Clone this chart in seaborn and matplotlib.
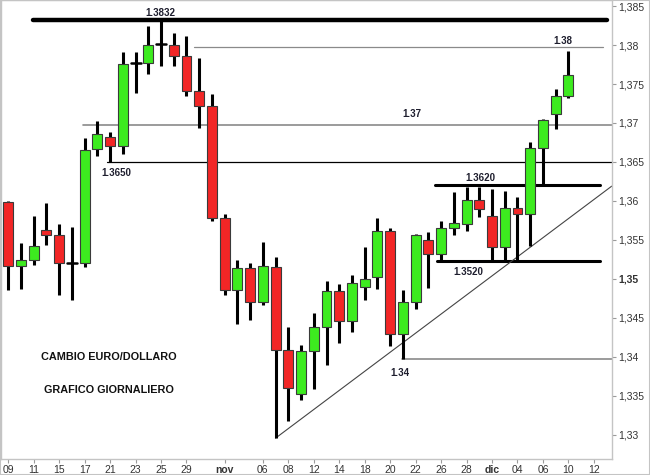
import pandas as pd
import matplotlib
matplotlib.use("Agg")
import matplotlib.pyplot as plt
from matplotlib.patches import Rectangle
import seaborn as sns

sns.set_theme(style="white")
plt.rcParams['font.family'] = ['Liberation Sans', 'DejaVu Sans']

# --- DATA: EUR/USD daily candles, 9 Oct - 10 Dec (trading days only) ---
opens = [1.3599, 1.3517, 1.3524, 1.3563, 1.3556, 1.3521, 1.3521, 1.3667, 1.3682, 1.3671,
         1.3777, 1.3777, 1.3801, 1.3800, 1.3786, 1.3741, 1.3722, 1.3578, 1.3486, 1.3514,
         1.3471, 1.3516, 1.3409, 1.3352, 1.3408, 1.3438, 1.3484, 1.3446, 1.3490, 1.3502,
         1.3562, 1.3429, 1.3471, 1.3550, 1.3532, 1.3566, 1.3571, 1.3601, 1.3581, 1.3541,
         1.3591, 1.3583, 1.3668, 1.3712, 1.3735]
highs = [1.3600, 1.3546, 1.3581, 1.3597, 1.3571, 1.3567, 1.3681, 1.3703, 1.3689, 1.3791,
         1.3791, 1.3824, 1.3832, 1.3816, 1.3812, 1.3783, 1.3737, 1.3583, 1.3524, 1.3521,
         1.3547, 1.3528, 1.3438, 1.3415, 1.3456, 1.3497, 1.3493, 1.3505, 1.3541, 1.3578,
         1.3565, 1.3486, 1.3558, 1.3560, 1.3574, 1.3612, 1.3618, 1.3618, 1.3615, 1.3613,
         1.3605, 1.3676, 1.3705, 1.3744, 1.3792]
lows = [1.3486, 1.3487, 1.3518, 1.3544, 1.3479, 1.3473, 1.3516, 1.3658, 1.3650, 1.3660,
        1.3739, 1.3763, 1.3773, 1.3773, 1.3734, 1.3694, 1.3574, 1.3479, 1.3442, 1.3448,
        1.3467, 1.3296, 1.3318, 1.3345, 1.3359, 1.3390, 1.3418, 1.3432, 1.3473, 1.3487,
        1.3414, 1.3398, 1.3461, 1.3488, 1.3523, 1.3557, 1.3562, 1.3579, 1.3523, 1.3523,
        1.3523, 1.3542, 1.3620, 1.3692, 1.3732]
closes = [1.3517, 1.3524, 1.3542, 1.3556, 1.3521, 1.3521, 1.3666, 1.3686, 1.3671, 1.3776,
          1.3777, 1.3800, 1.3801, 1.3786, 1.3741, 1.3722, 1.3578, 1.3486, 1.3514, 1.3471,
          1.3517, 1.3409, 1.3360, 1.3408, 1.3438, 1.3484, 1.3446, 1.3495, 1.3500, 1.3562,
          1.3429, 1.3470, 1.3557, 1.3532, 1.3566, 1.3572, 1.3601, 1.3590, 1.3541, 1.3591,
          1.3583, 1.3668, 1.3704, 1.3735, 1.3762]

# x tick labels (every other trading day, month names in bold)
tick_pos = [0, 2, 4, 6, 8, 10, 12, 14, 17, 20, 22, 24, 26, 28, 30, 32, 34, 36, 38, 40, 42, 44, 46]
tick_labels = ['09', '11', '15', '17', '21', '23', '25', '29', 'nov', '06', '08', '12',
               '14', '18', '20', '22', '26', '28', 'dic', '04', '06', '10', '12']
y_ticks = [1.33, 1.335, 1.34, 1.345, 1.35, 1.355, 1.36, 1.365, 1.37, 1.375, 1.38, 1.385]
y_labels = ['1,33', '1,335', '1,34', '1,345', '1,35', '1,355', '1,36', '1,365', '1,37',
            '1,375', '1,38', '1,385']

# support / resistance levels (value, from day, to day)
level_values = [1.3832, 1.3798, 1.3698, 1.3650, 1.3620, 1.3523, 1.3398]
level_from = [1.94, 14.6, 5.87, 7.78, 33.5, 33.7, 30.9]
level_to = [47.0, 46.7, 47.4, 47.4, 46.5, 46.5, 47.4]
level_text = ['1.3832', '1.38', '1.37', '1.3650', '1.3620', '1.3520', '1.34']
text_x = [11.98, 43.55, 31.7, 8.46, 37.1, 36.1, 30.8]
text_y = [1.3841, 1.3805, 1.3712, 1.3636, 1.3630, 1.3509, 1.3380]

# rising trend line
trend_x = [21, 47.4]
trend_y = [1.3296, 1.3619]

df = pd.DataFrame({'open': opens, 'high': highs, 'low': lows, 'close': closes})
df['day'] = range(len(df))

# --- PLOT ---
fig = plt.figure(figsize=(6.5, 4.75), dpi=100)
ax = fig.add_axes([1 / 650, 1 - 459 / 475, 610.7 / 650, 459 / 475])

# level lines
styles = [(3.2, 'black'), (0.9, '#8a8a8a'), (1.2, '#8a8a8a'), (0.9, 'black'),
          (2.2, 'black'), (2.2, 'black'), (1.2, '#8a8a8a')]
for val, x0, x1, (lw, col) in zip(level_values, level_from, level_to, styles):
    ax.plot([x0, x1], [val, val], color=col, lw=lw, solid_capstyle='round', zorder=1)

# trend line
sns.lineplot(x=trend_x, y=trend_y, color='#444444', lw=0.8, ax=ax, zorder=1)

# wicks
ax.vlines(df['day'], df['low'], df['high'], color='black', lw=2.2, zorder=2)

# bodies
body_w = 0.78
for _, r in df.iterrows():
    lo = min(r['open'], r['close'])
    h = abs(r['close'] - r['open'])
    if h < 0.00005:
        ax.plot([r['day'] - body_w / 2, r['day'] + body_w / 2], [lo, lo],
                color='black', lw=1.8, zorder=3)
        continue
    col = '#3deb1f' if r['close'] > r['open'] else '#f22626'
    ax.bar(r['day'], h, bottom=lo, width=body_w, color=col,
           edgecolor='#3a3a3a', linewidth=0.8, zorder=3)

# annotations
for t, x, y in zip(level_text, text_x, text_y):
    ax.text(x, y, t, ha='center', va='center', fontsize=7, fontweight='bold',
            color='#1e1e2e', zorder=4)
ax.text(7.88, 1.3400, 'CAMBIO EURO/DOLLARO', ha='center', va='center',
        fontsize=7.8, fontweight='bold', color='#111111')
ax.text(7.88, 1.3358, 'GRAFICO GIORNALIERO', ha='center', va='center',
        fontsize=7.8, fontweight='bold', color='#111111')

# axes styling
ax.set_xlim(-0.57, 47.4)
ax.set_ylim(1.32692, 1.38577)
ax.set_xlabel('')
ax.set_ylabel('')
ax.yaxis.tick_right()
ax.set_xticks(tick_pos)
ax.set_xticklabels(tick_labels)
ax.set_yticks(y_ticks)
ax.set_yticklabels(y_labels)
for lbl in ax.get_xticklabels():
    if lbl.get_text() in ('nov', 'dic'):
        lbl.set_fontweight('bold')
for lbl in ax.get_yticklabels():
    if lbl.get_text() == '1,35':
        lbl.set_fontweight('bold')
ax.tick_params(axis='both', direction='out', length=3, width=0.8, color='#9a9a9a',
               labelsize=7.5, labelcolor='#333333', pad=1.5)
ax.tick_params(axis='x', bottom=True)
ax.tick_params(axis='y', right=True, left=False)
for sp in ax.spines.values():
    sp.set_color('#c4c4c4')
    sp.set_linewidth(1.0)
ax.grid(False)

fig.patches.append(Rectangle((0, 0), 1, 1, transform=fig.transFigure, fill=False,
                             edgecolor='#c4c4c4', lw=1.5))

fig.savefig('out.png', dpi=100)
